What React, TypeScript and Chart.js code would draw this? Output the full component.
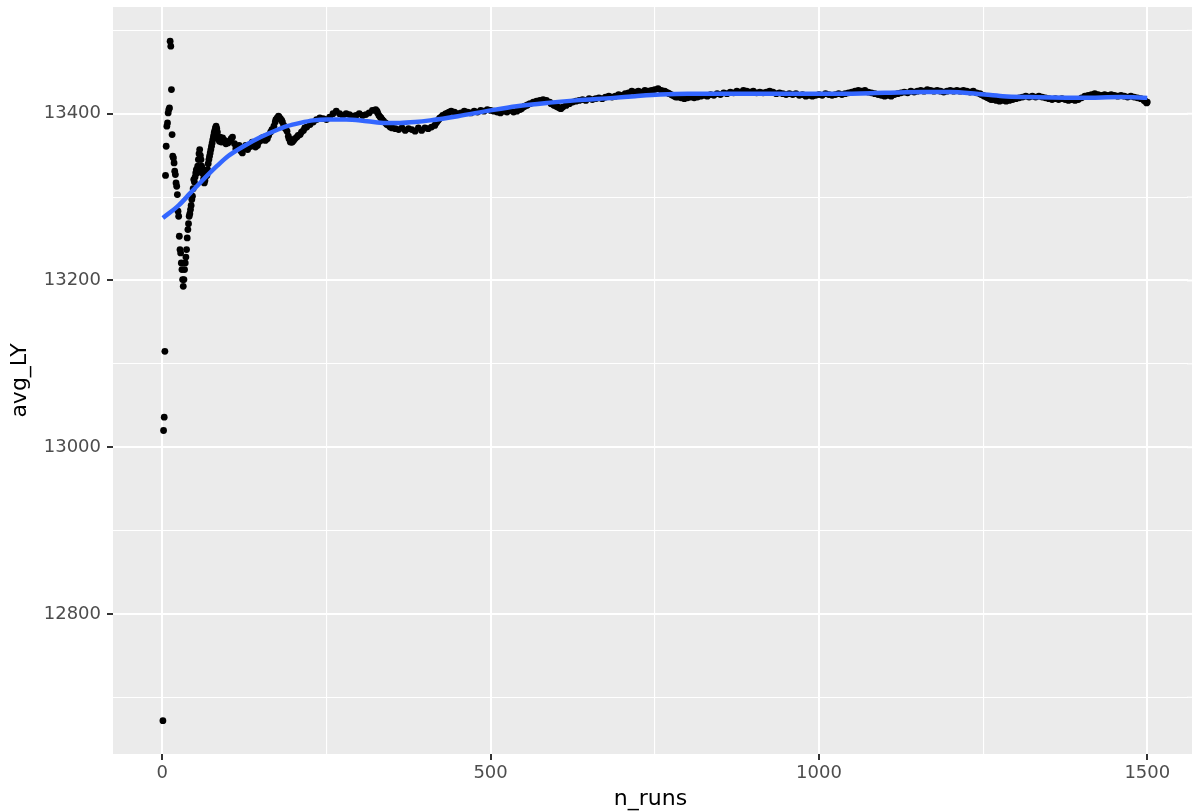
import React, { useEffect, useRef } from 'react';
import { Chart, registerables } from 'chart.js';

Chart.register(...registerables);

// ---- data: running average of avg_LY by n_runs ----
const nRuns: number[] = [
  1, 2, 3, 4, 5, 6, 7, 8, 9, 10, 11, 12, 13, 14, 15, 16, 17, 18, 19, 20,
  21, 22, 23, 24, 25, 26, 27, 28, 29, 30, 31, 32, 33, 34, 35, 36, 37, 38, 39, 40,
  41, 42, 43, 44, 45, 46, 47, 48, 49, 50, 51, 52, 53, 54, 55, 56, 57, 58, 59, 60,
  61, 62, 63, 64, 65, 66, 67, 68, 69, 70, 71, 72, 73, 74, 75, 76, 77, 78, 79, 80,
  81, 82, 83, 84, 85, 86, 87, 88, 89,
  90, 95, 100, 105, 110, 115, 120, 125, 130, 135, 140, 145, 150, 155, 160, 165, 170, 175, 180, 185,
  190, 195, 200, 205, 210, 215, 220, 225, 230, 235, 240, 245, 250, 255, 260, 265, 270, 275, 280, 285,
  290, 295, 300, 305, 310, 315, 320, 325, 330, 335, 340, 345, 350, 355, 360, 365, 370, 375, 380, 385,
  390, 395, 400, 405, 410, 415, 420, 425, 430, 435, 440, 445, 450, 455, 460, 465, 470, 475, 480, 485,
  490, 495, 500, 505, 510, 515, 520, 525, 530, 535, 540, 545, 550, 555, 560, 565, 570, 575, 580, 585,
  590, 595, 600, 605, 610, 615, 620, 625, 630, 635, 640, 645, 650, 655, 660, 665, 670, 675, 680, 685,
  690, 695, 700, 705, 710, 715, 720, 725, 730, 735, 740, 745, 750, 755, 760, 765, 770, 775, 780, 785,
  790, 795, 800, 805, 810, 815, 820, 825, 830, 835, 840, 845, 850, 855, 860, 865, 870, 875, 880, 885,
  890, 895, 900, 905, 910, 915, 920, 925, 930, 935, 940, 945, 950, 955, 960, 965, 970, 975, 980, 985,
  990, 995, 1000, 1005, 1010, 1015, 1020, 1025, 1030, 1035, 1040, 1045, 1050, 1055, 1060, 1065, 1070, 1075, 1080, 1085,
  1090, 1095, 1100, 1105, 1110, 1115, 1120, 1125, 1130, 1135, 1140, 1145, 1150, 1155, 1160, 1165, 1170, 1175, 1180, 1185,
  1190, 1195, 1200, 1205, 1210, 1215, 1220, 1225, 1230, 1235, 1240, 1245, 1250, 1255, 1260, 1265, 1270, 1275, 1280, 1285,
  1290, 1295, 1300, 1305, 1310, 1315, 1320, 1325, 1330, 1335, 1340, 1345, 1350, 1355, 1360, 1365, 1370, 1375, 1380, 1385,
  1390, 1395, 1400, 1405, 1410, 1415, 1420, 1425, 1430, 1435, 1440, 1445, 1450, 1455, 1460, 1465, 1470, 1475, 1480, 1485,
  1490, 1495, 1500,
];

const avgLY: number[] = [
  12672, 13020, 13036, 13115, 13326, 13361, 13385, 13389, 13401, 13405, 13407, 13487, 13481, 13429, 13375, 13349, 13347, 13341, 13331, 13327,
  13317, 13313, 13303, 13283, 13277, 13253, 13237, 13233, 13221, 13213, 13201, 13193, 13201, 13213, 13221, 13228, 13237, 13251, 13261, 13268,
  13277, 13280, 13285, 13290, 13297, 13301, 13310, 13321, 13318, 13324, 13329, 13333, 13329, 13337, 13345, 13352, 13357, 13350, 13345, 13337,
  13333, 13328, 13322, 13317, 13320, 13325, 13330, 13326, 13333, 13340, 13345, 13349, 13353, 13357, 13361, 13365, 13369, 13373, 13377, 13380,
  13383, 13385, 13382, 13378, 13372, 13370, 13367, 13372, 13369,
  13366, 13368, 13365, 13370, 13364, 13360, 13355, 13358, 13357, 13361, 13365, 13362, 13368, 13372, 13370, 13378, 13385, 13395, 13394, 13386,
  13379, 13366, 13368, 13372, 13375, 13380, 13384, 13387, 13390, 13393, 13395, 13394, 13393, 13396, 13400, 13403, 13400, 13398, 13400, 13399,
  13397, 13398, 13400, 13398, 13399, 13401, 13404, 13405, 13398, 13393, 13389, 13386, 13383, 13382, 13381, 13383, 13380, 13382, 13381, 13379,
  13383, 13380, 13383, 13382, 13384, 13386, 13392, 13396, 13399, 13401, 13403, 13402, 13400, 13401, 13403, 13402, 13401, 13403, 13402, 13404,
  13403, 13405, 13404, 13403, 13402, 13401, 13403, 13402, 13404, 13402, 13403, 13405, 13408, 13410, 13412, 13414, 13415, 13416, 13417, 13416,
  13414, 13411, 13409, 13407, 13408, 13410, 13412, 13414, 13415, 13416, 13417, 13416, 13418, 13417, 13418, 13419, 13418, 13420, 13421, 13420,
  13421, 13423, 13422, 13424, 13425, 13427, 13426, 13427, 13426, 13428, 13427, 13428, 13429, 13430, 13428, 13427, 13425, 13423, 13421, 13420,
  13419, 13418, 13419, 13420, 13419, 13420, 13421, 13422, 13421, 13423, 13422, 13424, 13423, 13425, 13424, 13426, 13425, 13427, 13426, 13428,
  13427, 13426, 13427, 13425, 13426, 13425, 13426, 13427, 13426, 13424, 13425, 13424, 13423, 13424, 13423, 13424, 13422, 13423, 13421, 13422,
  13421, 13422, 13423, 13422, 13424, 13423, 13422, 13423, 13424, 13423, 13424, 13425, 13426, 13427, 13428, 13427, 13428, 13426, 13425, 13424,
  13423, 13422, 13421, 13422, 13421, 13423, 13424, 13425, 13426, 13425, 13427, 13426, 13427, 13428, 13427, 13429, 13428, 13427, 13428, 13427,
  13426, 13427, 13428, 13427, 13428, 13427, 13428, 13427, 13426, 13427, 13425, 13424, 13422, 13420, 13418, 13417, 13416, 13415, 13416, 13415,
  13416, 13417, 13418, 13419, 13420, 13421, 13420, 13421, 13420, 13421, 13420, 13419, 13418, 13417, 13418, 13417, 13418, 13417, 13416, 13417,
  13416, 13417, 13419, 13421, 13422, 13423, 13424, 13423, 13422, 13423, 13422, 13423, 13422, 13421, 13422, 13421, 13420, 13421, 13420, 13419,
  13418, 13416, 13414,
];

// extra runs read where the running average moves quickly
const nRunsExtra: number[] = [
  92, 97, 102, 107, 112, 117, 122, 127, 132, 137, 142, 147, 152, 157, 162,
  167, 172, 173, 177, 178, 182, 183, 187, 188, 192, 193, 197, 198, 202, 207, 212, 217,
  327, 328, 332, 333, 337, 342, 347,
  417, 418, 422, 423, 427, 432, 437,
  547, 552, 557, 592, 597, 602, 607,
  767, 772, 777, 782,
  1247, 1252, 1257, 1262, 1497, 1499,
];
const avgLYExtra: number[] = [
  13371, 13364, 13367, 13372, 13358, 13362, 13353, 13362, 13360, 13366, 13360, 13366, 13371, 13368, 13374,
  13381, 13390, 13393, 13397, 13396, 13392, 13390, 13383, 13382, 13373, 13370, 13366, 13366, 13370, 13374, 13378, 13383,
  13403, 13401, 13396, 13395, 13391, 13387, 13384,
  13389, 13390, 13394, 13395, 13398, 13400, 13402,
  13406, 13409, 13411, 13412, 13410, 13408, 13406,
  13426, 13424, 13422, 13420,
  13423, 13421, 13419, 13417, 13415, 13413,
];

// ---- smoothed (loess) trend line ----
const smoothN: number[] = [
  1, 25, 43, 60, 83, 100, 124, 150, 170, 190, 210, 230, 251, 280, 312, 340, 362, 385, 408, 450,
  500, 540, 586, 630, 687, 720, 758, 800, 839, 900, 966, 1030, 1100, 1160, 1200, 1240, 1280, 1320, 1400, 1460, 1500,
];
const smoothLY: number[] = [
  13275, 13290, 13305, 13319, 13337, 13349, 13361, 13372, 13379, 13385, 13389, 13392, 13393, 13393, 13391, 13389, 13389, 13390, 13392, 13397,
  13404, 13409, 13413, 13416, 13419, 13421, 13423, 13424, 13424, 13424, 13424, 13424, 13425, 13426, 13426, 13424, 13421, 13420, 13419, 13420, 13419,
];

// ---- axis ticks ----
const xMajorTicks = [0, 500, 1000, 1500];
const xMinorTicks = [250, 750, 1250];
const yMajorTicks = [12800, 13000, 13200, 13400];
const yMinorTicks = [12700, 12900, 13100, 13300, 13500];

const FONT = "'DejaVu Sans', 'Noto Sans', sans-serif";

// ggplot-like grey panel; continues to the canvas' right edge (the panel is cut off there)
const panelBackground = {
  id: 'panelBackground',
  beforeDraw(chart: any) {
    const { ctx, chartArea } = chart;
    if (!chartArea) return;
    const w = chart.width;
    ctx.save();
    ctx.fillStyle = '#EBEBEB';
    ctx.fillRect(chartArea.left, chartArea.top, w - chartArea.left, chartArea.bottom - chartArea.top);
    const yScale = chart.scales.y;
    ctx.strokeStyle = '#FFFFFF';
    [...yMajorTicks, ...yMinorTicks].forEach((v) => {
      const py = yScale.getPixelForValue(v);
      ctx.lineWidth = yMajorTicks.includes(v) ? 2 : 1.1;
      ctx.beginPath();
      ctx.moveTo(chartArea.right - 1, py);
      ctx.lineTo(w, py);
      ctx.stroke();
    });
    ctx.restore();
  },
};

export default function App() {
  const canvasRef = useRef<HTMLCanvasElement | null>(null);

  useEffect(() => {
    document.body.style.margin = '0';
    document.body.style.overflow = 'hidden';
    const canvas = canvasRef.current;
    if (!canvas) return;

    const points = nRuns.map((n, i) => ({ x: n, y: avgLY[i] }));
    const extraPoints = nRunsExtra.map((n, i) => ({ x: n, y: avgLYExtra[i] }));
    const smooth = smoothN.map((n, i) => ({ x: n, y: smoothLY[i] }));

    const xAll = [...xMajorTicks, ...xMinorTicks].sort((a, b) => a - b);
    const yAll = [...yMajorTicks, ...yMinorTicks].sort((a, b) => a - b);

    const pointStyle = {
      pointRadius: 3.4,
      pointBackgroundColor: '#000000',
      pointBorderWidth: 0,
      showLine: false,
      order: 1,
    };

    const chart = new Chart(canvas, {
      type: 'scatter',
      data: {
        datasets: [
          {
            type: 'line',
            data: smooth,
            borderColor: '#3366FF',
            borderWidth: 4.5,
            pointRadius: 0,
            fill: false,
            showLine: true,
            cubicInterpolationMode: 'monotone',
            order: 0,
          } as any,
          { data: points, ...pointStyle } as any,
          { data: extraPoints, ...pointStyle } as any,
        ],
      },
      options: {
        animation: false,
        responsive: false,
        devicePixelRatio: 1,
        events: [],
        layout: { padding: { top: 7, right: 0, left: 0, bottom: 0 } },
        plugins: {
          legend: { display: false },
          tooltip: { enabled: false },
        },
        scales: {
          x: {
            type: 'linear',
            min: -75,
            max: 1562,
            afterBuildTicks: (axis: any) => {
              axis.ticks = xAll.map((v) => ({ value: v }));
            },
            afterFit: (scale: any) => {
              scale.height = 58;
              scale.paddingLeft = 0;
              scale.paddingRight = 0;
            },
            border: { display: false },
            grid: {
              color: '#FFFFFF',
              lineWidth: (ctx: any) => (ctx.tick && xMajorTicks.includes(ctx.tick.value) ? 2 : 1.1),
              drawTicks: true,
              tickLength: 6,
              tickWidth: 2,
              tickColor: (ctx: any) => (ctx.tick && xMajorTicks.includes(ctx.tick.value) ? '#333333' : 'rgba(0,0,0,0)'),
            },
            ticks: {
              autoSkip: false,
              maxRotation: 0,
              padding: 3,
              color: '#4D4D4D',
              font: { family: FONT, size: 18 },
              callback: (v: any) => (xMajorTicks.includes(Number(v)) ? String(v) : ''),
            },
            title: {
              display: true,
              text: 'n_runs',
              color: '#000000',
              font: { family: FONT, size: 22 },
              padding: { top: 0, bottom: 0 },
            },
          },
          y: {
            type: 'linear',
            min: 12632,
            max: 13528,
            afterBuildTicks: (axis: any) => {
              axis.ticks = yAll.map((v) => ({ value: v }));
            },
            afterFit: (scale: any) => {
              scale.width = 113;
              scale.paddingTop = 0;
              scale.paddingBottom = 0;
            },
            border: { display: false },
            grid: {
              color: '#FFFFFF',
              lineWidth: (ctx: any) => (ctx.tick && yMajorTicks.includes(ctx.tick.value) ? 2 : 1.1),
              drawTicks: true,
              tickLength: 6,
              tickWidth: 2,
              tickColor: (ctx: any) => (ctx.tick && yMajorTicks.includes(ctx.tick.value) ? '#333333' : 'rgba(0,0,0,0)'),
            },
            ticks: {
              autoSkip: false,
              padding: 6,
              color: '#4D4D4D',
              font: { family: FONT, size: 18 },
              callback: (v: any) => (yMajorTicks.includes(Number(v)) ? String(v) : ''),
            },
            title: {
              display: true,
              text: 'avg_LY',
              color: '#000000',
              font: { family: FONT, size: 22 },
              padding: { top: 7, bottom: 0 },
            },
          },
        },
      },
      plugins: [panelBackground],
    });

    return () => {
      chart.destroy();
    };
  }, []);

  return (
    <div style={{ width: 1192, height: 812, background: '#FFFFFF' }}>
      <canvas ref={canvasRef} width={1192} height={812} style={{ display: 'block' }} />
    </div>
  );
}
